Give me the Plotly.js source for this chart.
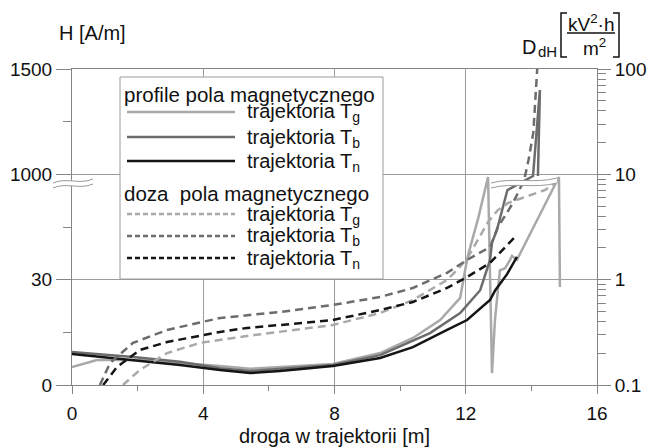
<!DOCTYPE html>
<html><head><meta charset="utf-8">
<script src="https://cdn.plot.ly/plotly-3.0.1.min.js"></script>
<style>html,body{margin:0;padding:0;background:#fff}</style>
</head><body><div id="chart" style="width:648px;height:448px"></div>
<script>
// ---- data ----
const xTickVals = [0, 4, 8, 12, 16];
const xMinorVals = [2, 6, 10, 14];
const hTickVals = [0, 30, 1000, 1500];
const hTickText = ['0', '30', '1000', '1500'];
const hMinorVals = [15, 173, 1250];
const dTickVals = [0.1, 1, 10, 100];
const dTickText = ['0.1', '1', '10', '100'];
const dMinorVals = [0.2,0.3,0.4,0.5,0.6,0.7,0.8,0.9,2,3,4,5,6,7,8,9,20,30,40,50,60,70,80,90];

// magnetic field profiles H [A/m]
const xHTg = [0, 0.76, 2.07, 3.29, 4.51, 5.43, 6.34, 7.95, 9.39, 10.39, 11.22, 11.83, 11.98, 12.07, 12.38, 12.68, 12.80, 12.89, 13.04, 13.20, 13.35, 13.41, 13.56, 14.84, 14.87];
const hTg  = [5.1, 7.1, 7.1, 6.3, 5.4, 4.6, 5.1, 6.0, 9.1, 13.4, 18.5, 24.8, 41, 68, 233, 916, 3.4, 18.5, 41, 44, 58, 66, 58, 916, 27.9];
const xHTb = [0, 1.86, 3.29, 4.51, 5.43, 6.34, 7.95, 9.39, 10.91, 11.83, 12.44, 12.74, 12.80, 12.95, 13.27, 14.05, 14.26, 14.20];
const hTb  = [9.4, 8.0, 6.6, 4.8, 4.0, 4.6, 5.7, 8.5, 14.8, 20.5, 27, 58, 102, 157, 593, 946, 1400, 946];
const xHTn = [0, 1.86, 3.29, 4.51, 5.43, 6.34, 7.95, 9.39, 10.39, 11.43, 12.04, 12.74, 12.90, 13.26, 13.56];
const hTn  = [8.8, 7.1, 5.7, 4.3, 3.4, 4.0, 5.4, 7.7, 10.8, 15.7, 18.5, 24.2, 27, 36, 64];

// magnetic field dose D_dH [kV^2 h / m^2]
const xDTg = [1.55, 2.07, 2.9, 3.9, 5.33, 6.34, 7.95, 9.39, 10.39, 11.43, 11.8, 12.07, 12.37, 12.68, 12.98, 13.29, 13.72, 14.42, 14.72];
const dTg  = [0.1, 0.139, 0.201, 0.251, 0.292, 0.319, 0.371, 0.483, 0.641, 0.993, 1.3, 1.64, 2.38, 3.53, 4.58, 5.35, 5.96, 7.1, 8.28];
const xDTb = [0.85, 1.16, 1.86, 2.9, 4.51, 6.34, 7.95, 9.39, 10.39, 11.43, 12.04, 12.74, 12.98, 13.44, 13.78, 13.92, 14.06, 14.15, 14.2];
const dTb  = [0.1, 0.162, 0.251, 0.333, 0.433, 0.493, 0.575, 0.685, 0.834, 1.16, 1.54, 2.04, 3.16, 5.35, 8.8, 14, 25, 60, 130];
const xDTn = [0.95, 1.37, 2.07, 2.9, 4.51, 5.33, 6.34, 7.95, 9.39, 10.39, 11.43, 12.04, 12.74, 13.56];
const dTn  = [0.1, 0.148, 0.215, 0.256, 0.319, 0.348, 0.371, 0.414, 0.515, 0.614, 0.834, 1.06, 1.44, 2.66];

const legendHeader1 = 'profile pola magnetycznego';
const legendHeader2 = 'doza\u00a0 pola magnetycznego';
const legendNames = ['trajektoria T<sub>g</sub>', 'trajektoria T<sub>b</sub>', 'trajektoria T<sub>n</sub>'];

// ---- broken H scale: 0-30 linear, 30-1000 compressed (log), 1000-1500 linear ----
function hScale(h) {
  if (h <= 30) return h / 30;
  if (h <= 1000) return 1 + Math.log(h / 30) / Math.log(1000 / 30);
  return 2 + (h - 1000) / 500;
}

const cLight = '#a9a9a9', cDark = '#6c6c6c', cBlack = '#151515';
const FONT = 'Liberation Sans, Arial, sans-serif';
const axisCol = '#858585', gridCol = '#9c9c9c';

const traces = [
  {x: xDTg, y: dTg, yaxis: 'y2', mode: 'lines', line: {color: cLight, width: 2.5, dash: '8px,5px'}},
  {x: xDTb, y: dTb, yaxis: 'y2', mode: 'lines', line: {color: cDark, width: 2.5, dash: '8px,5px'}},
  {x: xDTn, y: dTn, yaxis: 'y2', mode: 'lines', line: {color: cBlack, width: 2.5, dash: '8px,5px'}},
  {x: xHTg, y: hTg.map(hScale), mode: 'lines', line: {color: cLight, width: 2.5}},
  {x: xHTb, y: hTb.map(hScale), mode: 'lines', line: {color: cDark, width: 2.5}},
  {x: xHTn, y: hTn.map(hScale), mode: 'lines', line: {color: cBlack, width: 2.5}}
];

// pixel -> paper helpers (plot area: x 72..597, y 69..385)
const L = 72, R = 597, T = 69, B = 385;
const px = v => (v - L) / (R - L);
const py = v => (B - v) / (B - T);
const P = (a, b) => px(a).toFixed(5) + ',' + py(b).toFixed(5);

const shapes = [];
const annotations = [];

// legend box
shapes.push({type: 'rect', xref: 'paper', yref: 'paper', x0: px(120), x1: px(383), y0: py(279), y1: py(77),
  fillcolor: '#ffffff', line: {color: '#9a9a9a', width: 1}, layer: 'above'});
const legRowsY = [112, 137, 161, 214, 236, 258];
const legCols = [cLight, cDark, cBlack, cLight, cDark, cBlack];
legRowsY.forEach((yy, i) => {
  shapes.push({type: 'line', xref: 'paper', yref: 'paper', x0: px(127), x1: px(235), y0: py(yy), y1: py(yy),
    line: {color: legCols[i], width: 2.5, dash: i < 3 ? 'solid' : '5px,3px'}, layer: 'above'});
  annotations.push({xref: 'paper', yref: 'paper', x: px(245), y: py(yy + 1), xanchor: 'left', yanchor: 'middle',
    text: legendNames[i % 3], showarrow: false, font: {family: FONT, size: 20, color: '#111'}});
});
annotations.push({xref: 'paper', yref: 'paper', x: px(122), y: py(94), xanchor: 'left', yanchor: 'middle',
  text: legendHeader1, showarrow: false, font: {family: FONT, size: 20.5, color: '#111'}});
annotations.push({xref: 'paper', yref: 'paper', x: px(122), y: py(193), xanchor: 'left', yanchor: 'middle',
  text: legendHeader2, showarrow: false, font: {family: FONT, size: 20.5, color: '#111'}});

// axis breaks (wavy double lines)
function wave(x0, y0, x1, y1, gap) {
  const dx = (x1 - x0) / 3;
  const top = 'M' + P(x0, y0) + ' C' + P(x0 + dx, y0 - 6) + ' ' + P(x1 - dx, y1 + 6) + ' ' + P(x1, y1);
  const bot = 'M' + P(x0, y0 + gap) + ' C' + P(x0 + dx, y0 + gap - 6) + ' ' + P(x1 - dx, y1 + gap + 6) + ' ' + P(x1, y1 + gap);
  const fill = top + ' L' + P(x1, y1 + gap) + ' C' + P(x1 - dx, y1 + gap + 6) + ' ' + P(x0 + dx, y0 + gap - 6) + ' ' + P(x0, y0 + gap) + ' Z';
  shapes.push({type: 'path', xref: 'paper', yref: 'paper', path: fill, fillcolor: '#ffffff', line: {width: 0}, layer: 'above'});
  shapes.push({type: 'path', xref: 'paper', yref: 'paper', path: top, line: {color: '#9a9a9a', width: 1}, layer: 'above'});
  shapes.push({type: 'path', xref: 'paper', yref: 'paper', path: bot, line: {color: '#9a9a9a', width: 1}, layer: 'above'});
}
wave(53, 183, 93, 179, 5);
wave(491, 183, 557, 178, 5);

// left title
annotations.push({xref: 'paper', yref: 'paper', x: px(92), y: py(33), xanchor: 'center', yanchor: 'middle',
  text: 'H [A/m]', showarrow: false, font: {family: FONT, size: 20, color: '#111'}});
// right title D_dH [kV^2 h / m^2]
annotations.push({xref: 'paper', yref: 'paper', x: px(520), y: py(46.5), xanchor: 'left', yanchor: 'middle',
  text: 'D', showarrow: false, font: {family: FONT, size: 20, color: '#111'}});
annotations.push({xref: 'paper', yref: 'paper', x: px(536), y: py(52), xanchor: 'left', yanchor: 'middle',
  text: 'dH', showarrow: false, font: {family: FONT, size: 15, color: '#111'}});
annotations.push({xref: 'paper', yref: 'paper', x: px(591.5), y: py(23), xanchor: 'center', yanchor: 'middle',
  text: 'kV<sup>2</sup>·h', showarrow: false, font: {family: FONT, size: 19, color: '#111'}});
annotations.push({xref: 'paper', yref: 'paper', x: px(594.5), y: py(47), xanchor: 'center', yanchor: 'middle',
  text: 'm<sup>2</sup>', showarrow: false, font: {family: FONT, size: 19, color: '#111'}});
shapes.push({type: 'line', xref: 'paper', yref: 'paper', x0: px(567), x1: px(615), y0: py(33), y1: py(33), line: {color: '#111', width: 1.5}});
shapes.push({type: 'path', xref: 'paper', yref: 'paper', path: 'M' + P(567, 13) + ' L' + P(561, 13) + ' L' + P(561, 57) + ' L' + P(567, 57), line: {color: '#111', width: 1.5}});
shapes.push({type: 'path', xref: 'paper', yref: 'paper', path: 'M' + P(613, 13) + ' L' + P(619, 13) + ' L' + P(619, 57) + ' L' + P(613, 57), line: {color: '#111', width: 1.5}});

const layout = {
  width: 648, height: 448,
  margin: {l: L, r: 648 - R, t: T, b: 448 - B, pad: 0},
  paper_bgcolor: '#ffffff', plot_bgcolor: '#ffffff',
  showlegend: false,
  font: {family: FONT, size: 19, color: '#111'},
  xaxis: {
    range: [0, 16], tickmode: 'array', tickvals: xTickVals, ticktext: xTickVals.map(String),
    ticks: 'outside', ticklen: 8, tickcolor: axisCol, tickwidth: 1,
    showline: true, linecolor: axisCol, linewidth: 1, mirror: true,
    showgrid: true, gridcolor: gridCol, gridwidth: 1, zeroline: false,
    minor: {tickmode: 'array', tickvals: xMinorVals, ticks: 'outside', ticklen: 5, tickcolor: axisCol, showgrid: false},
    tickfont: {family: FONT, size: 19, color: '#111'}, ticklabelstandoff: 3,
    title: {text: 'droga w trajektorii [m]', font: {family: FONT, size: 20, color: '#111'}, standoff: 6}
  },
  yaxis: {
    range: [0, 3], tickmode: 'array', tickvals: hTickVals.map(hScale), ticktext: hTickText,
    ticks: 'outside', ticklen: 15, tickcolor: axisCol, tickwidth: 1,
    showline: true, linecolor: axisCol, linewidth: 1,
    showgrid: true, gridcolor: gridCol, gridwidth: 1, zeroline: false,
    minor: {tickmode: 'array', tickvals: hMinorVals.map(hScale), ticks: 'outside', ticklen: 8, tickcolor: axisCol, showgrid: false},
    tickfont: {family: FONT, size: 19, color: '#111'}
  },
  yaxis2: {
    overlaying: 'y', side: 'right', type: 'log', range: [-1, 2],
    tickmode: 'array', tickvals: dTickVals, ticktext: dTickText,
    ticks: 'outside', ticklen: 13, tickcolor: axisCol, tickwidth: 1,
    showline: true, linecolor: axisCol, linewidth: 1,
    showgrid: false, zeroline: false,
    minor: {tickmode: 'array', tickvals: dMinorVals, ticks: 'outside', ticklen: 8, tickcolor: axisCol, showgrid: false},
    tickfont: {family: FONT, size: 19, color: '#111'}
  },
  shapes: shapes,
  annotations: annotations
};

Plotly.newPlot('chart', traces, layout, {staticPlot: true, displayModeBar: false});
</script>
</body></html>
